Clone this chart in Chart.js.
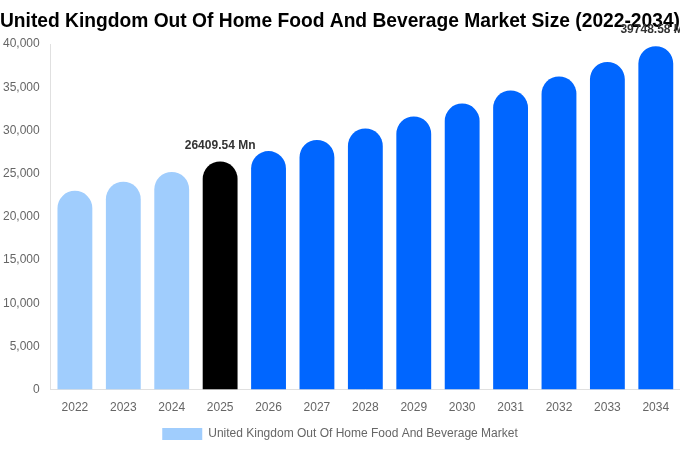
<!DOCTYPE html>
<html>
<head>
<meta charset="utf-8">
<script src="https://cdn.jsdelivr.net/npm/chart.js@4/dist/chart.umd.min.js"></script>
<style>
html,body{margin:0;padding:0;background:#fff;}
#wrap{width:680px;height:450px;position:relative;}
</style>
</head>
<body>
<div id="wrap"><canvas id="c"></canvas></div>
<script>
const TITLE = "United Kingdom Out Of Home Food And Beverage Market Size (2022-2034)";
const SERIES_NAME = "United Kingdom Out Of Home Food And Beverage Market";
const categories = ["2022","2023","2024","2025","2026","2027","2028","2029","2030","2031","2032","2033","2034"];
const values = [23010, 24060, 25190, 26409.54, 27610, 28890, 30220, 31610, 33110, 34620, 36250, 37930, 39748.58];
const barColors = ["#A0CDFD","#A0CDFD","#A0CDFD","#000000","#0066FF","#0066FF","#0066FF","#0066FF","#0066FF","#0066FF","#0066FF","#0066FF","#0066FF"];
const labeledIndices = [3, 12];
const yTickMax = 40000;
const yTickStep = 5000;

const labelPlugin = {
  id: 'valueLabels',
  afterDatasetsDraw(chart) {
    const ctx = chart.ctx;
    const meta = chart.getDatasetMeta(0);
    ctx.save();
    ctx.font = 'bold 12px "Liberation Sans", Arial, sans-serif';
    ctx.fillStyle = '#333333';
    ctx.textAlign = 'center';
    ctx.textBaseline = 'middle';
    labeledIndices.forEach(i => {
      const el = meta.data[i];
      ctx.fillText(values[i].toFixed(2) + ' Mn', el.x, el.y - 16);
    });
    ctx.restore();
  }
};

new Chart(document.getElementById('c'), {
  type: 'bar',
  data: {
    labels: categories,
    datasets: [{
      label: SERIES_NAME,
      data: values,
      backgroundColor: barColors,
      borderRadius: {topLeft: 100, topRight: 100},
      borderSkipped: 'bottom'
    }]
  },
  options: {
    responsive: true,
    maintainAspectRatio: false,
    animation: false,
    layout: {padding: {left: 0, right: 0, top: 0, bottom: 0}},
    plugins: {
      title: {
        display: true,
        text: TITLE,
        color: '#000000',
        font: {family: '"Liberation Sans", Arial, sans-serif', size: 20, weight: 'bold'},
        padding: {top: 9, bottom: 11}
      },
      legend: {
        position: 'bottom',
        labels: {
          color: '#666666',
          font: {family: '"Liberation Sans", Arial, sans-serif', size: 12},
          boxWidth: 40,
          boxHeight: 12,
          generateLabels(chart) {
            const items = Chart.defaults.plugins.legend.labels.generateLabels(chart);
            items.forEach(it => { it.fillStyle = barColors[0]; it.strokeStyle = barColors[0]; it.lineWidth = 0; });
            return items;
          }
        }
      },
      tooltip: {enabled: false}
    },
    scales: {
      x: {
        grid: {display: false},
        border: {display: true, color: '#e0e0e0'},
        ticks: {color: '#666666', font: {family: '"Liberation Sans", Arial, sans-serif', size: 12}}
      },
      y: {
        min: 0,
        max: yTickMax,
        grid: {display: false},
        border: {display: true, color: '#e0e0e0'},
        ticks: {
          stepSize: yTickStep,
          color: '#666666',
          font: {family: '"Liberation Sans", Arial, sans-serif', size: 12},
          callback: v => v.toLocaleString('en-US')
        }
      }
    }
  },
  plugins: [labelPlugin]
});
</script>
</body>
</html>
